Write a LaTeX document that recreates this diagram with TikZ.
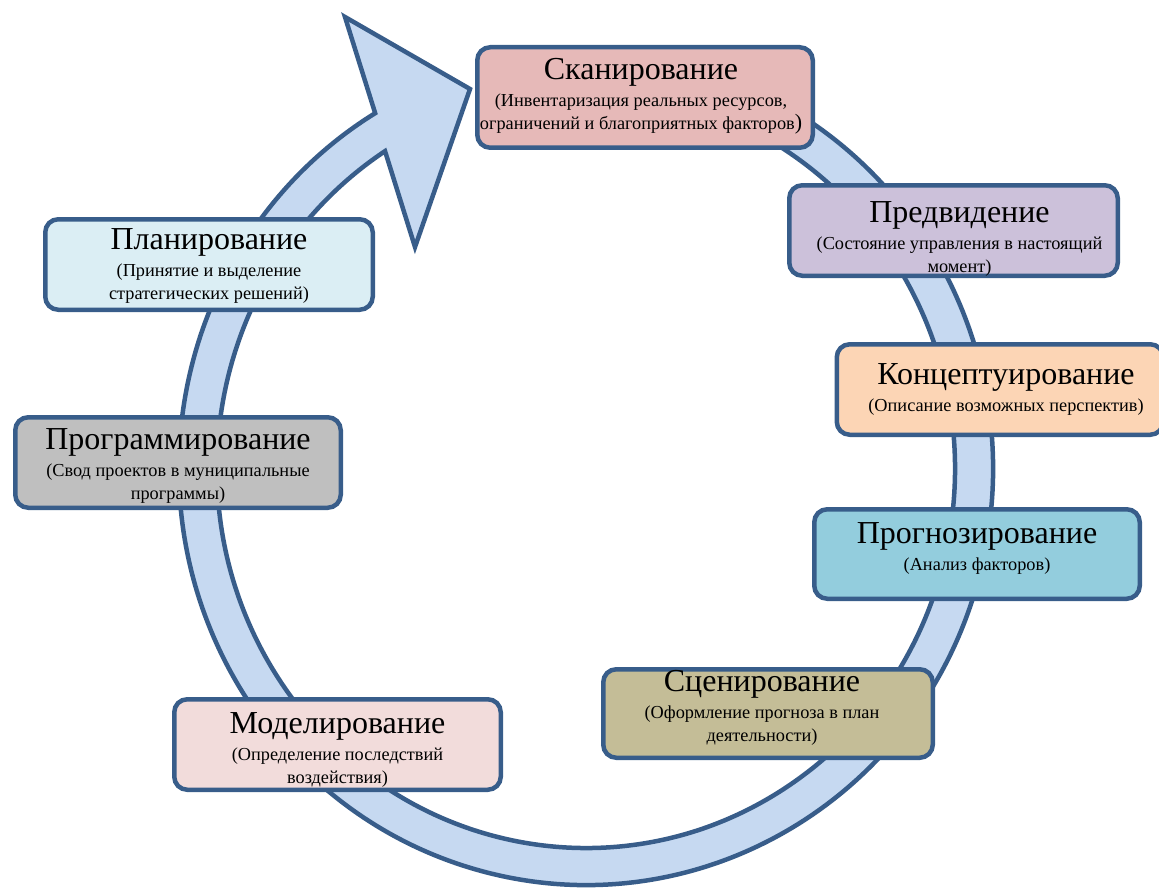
\documentclass[tikz,border=0pt]{standalone}
\usepackage{fontspec}
\setmainfont{Liberation Serif}
\definecolor{edge}{HTML}{385D8A}
\definecolor{ringfill}{HTML}{C6D9F1}
\definecolor{cScan}{HTML}{E6B9B8}
\definecolor{cPred}{HTML}{CCC1DA}
\definecolor{cKonc}{HTML}{FCD5B5}
\definecolor{cProg}{HTML}{93CDDD}
\definecolor{cScen}{HTML}{C4BD97}
\definecolor{cModel}{HTML}{F2DCDB}
\definecolor{cProgr}{HTML}{BFBFBF}
\definecolor{cPlan}{HTML}{DBEEF4}
\newcommand{\ttl}[1]{{\fontsize{32}{36}\selectfont #1}}
\newcommand{\blk}[1]{\begin{tabular}{@{}c@{}}#1\end{tabular}}
\begin{document}
\begin{tikzpicture}[x=1pt,y=-1pt,
  bx/.style={draw=edge, line width=4.5pt, rounded corners=13pt, inner sep=0pt},
  txt/.style={inner sep=0pt, font=\fontsize{18.3}{23}\selectfont, text=black},
  ring/.style={draw=edge, fill=ringfill, line width=4.5pt, line join=miter}]
\useasboundingbox (0,0) rectangle (1159,888);
% circular arrow
\coordinate (c) at (586,469);
\coordinate (b1) at (345,17);
\coordinate (tip) at (470,89);
\coordinate (b2) at (415,247);
\draw[ring] ([shift={(586,469)}]-75:407 and 416)
  arc[start angle=-75, end angle=238.8, x radius=407, y radius=416]
  -- (b1) -- (tip) -- (b2)
  -- ([shift={(586,469)}]237:369 and 379)
  arc[start angle=237, end angle=-75, x radius=369, y radius=379] -- cycle;
% boxes
\node[bx, fill=cScan, minimum width=335.5pt, minimum height=100.5pt] (scan) at (645,97.5) {};
\node[bx, fill=cPred, minimum width=328.5pt, minimum height=90.5pt] (pred) at (953.5,230.5) {};
\node[bx, fill=cKonc, minimum width=326.5pt, minimum height=90.5pt] (konc) at (1000,389.5) {};
\node[bx, fill=cProg, minimum width=325.5pt, minimum height=89.5pt] (prog) at (977,554) {};
\node[bx, fill=cScen, minimum width=329.5pt, minimum height=88.5pt] (scen) at (768,713.5) {};
\node[bx, fill=cModel, minimum width=326.5pt, minimum height=90.5pt] (model) at (337.5,744.5) {};
\node[bx, fill=cProgr, minimum width=325.5pt, minimum height=90.5pt] (progr) at (178,462.5) {};
\node[bx, fill=cPlan, minimum width=327.5pt, minimum height=90.5pt] (plan) at (209,264.5) {};
% texts
\node[txt] (scanT) at ([xshift=-4pt]scan.center) {\blk{\ttl{Сканирование}\\[4pt]
  (Инвентаризация реальных ресурсов,\\ ограничений и благоприятных факторов{\fontsize{22}{22}\selectfont )}}};
\node[txt] (predT) at ([xshift=6pt,yshift=-10pt]pred.center) {\blk{\ttl{Предвидение}\\[4pt]
  (Состояние управления в настоящий\\ момент)}};
\node[txt] (koncT) at ([xshift=6pt,yshift=-1pt]konc.center) {\blk{\ttl{Концептуирование}\\[4pt]
  (Описание возможных перспектив)}};
\node[txt] (progT) at ([yshift=4pt]prog.center) {\blk{\ttl{Прогнозирование}\\[4pt]
  (Анализ факторов)}};
\node[txt] (scenT) at ([xshift=-6pt,yshift=4pt]scen.center) {\blk{\ttl{Сценирование}\\[4pt]
  (Оформление прогноза в план\\ деятельности)}};
\node[txt] (modelT) at ([yshift=-7pt]model.center) {\blk{\ttl{Моделирование}\\[4pt]
  (Определение последствий\\ воздействия)}};
\node[txt] (progrT) at ([yshift=-5pt]progr.center) {\blk{\ttl{Программирование}\\[4pt]
  (Свод проектов в муниципальные\\ программы)}};
\node[txt] (planT) at ([yshift=-3pt]plan.center) {\blk{\ttl{Планирование}\\[4pt]
  (Принятие и выделение\\ стратегических решений)}};
\end{tikzpicture}
\end{document}
